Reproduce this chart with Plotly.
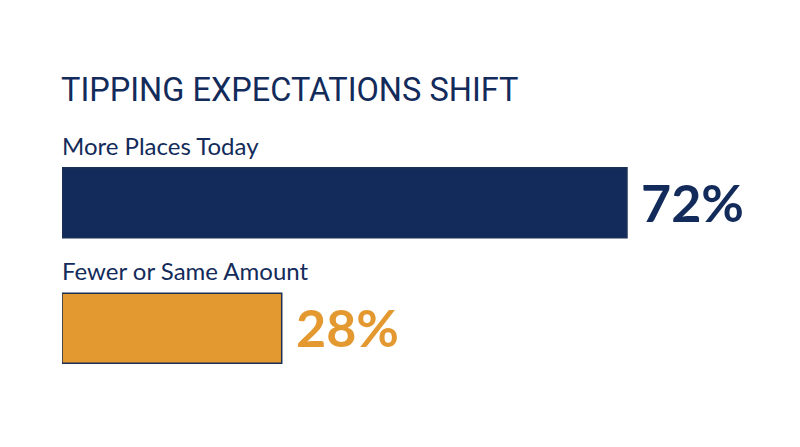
import plotly.graph_objects as go

# survey answers, top bar first
categories = ["More Places Today", "Fewer or Same Amount"]
values = [72, 28]
value_labels = ["72%", "28%"]
bar_colors = ["#132b5a", "#e3992f"]
title_text = "TIPPING EXPECTATIONS SHIFT"

navy = "#132b5a"

# plotly draws categories bottom-up, so reverse them
y_order = categories[::-1]

fig = go.Figure()
fig.add_trace(go.Bar(
    x=values,
    y=categories,
    orientation="h",
    width=0.557,
    marker=dict(color=bar_colors, line=dict(color="#1c2f55", width=1.5)),
    hoverinfo="skip",
))

# category label above each bar, value to the right of it
for cat, val, lab, col in zip(categories, values, value_labels, bar_colors):
    fig.add_annotation(
        x=0, y=cat, xref="x", yref="y",
        text=cat, showarrow=False,
        xanchor="left", yanchor="bottom", yshift=41, xshift=-2,
        font=dict(family="Lato", size=24, color=navy),
    )
    fig.add_annotation(
        x=val, y=cat, xref="x", yref="y",
        text="<b>" + lab + "</b>", showarrow=False,
        xanchor="left", yanchor="middle", xshift=12, yshift=1,
        font=dict(family="Lato", size=52, color=col),
    )

# title sits above the plot area (paper coords of the plot area)
fig.add_annotation(
    x=0, y=1.2, xref="paper", yref="paper",
    text=title_text, showarrow=False,
    xanchor="left", yanchor="middle", xshift=-3,
    font=dict(family="Roboto", size=32.5, color=navy),
)

fig.update_layout(
    width=792, height=439,
    margin=dict(l=54, r=20, t=132, b=56),
    paper_bgcolor="white",
    plot_bgcolor="white",
    showlegend=False,
    xaxis=dict(range=[0, 91.5], visible=False),
    yaxis=dict(categoryorder="array", categoryarray=y_order,
               range=[-0.5, 1.5], visible=False),
)

fig.write_html("out.html")
